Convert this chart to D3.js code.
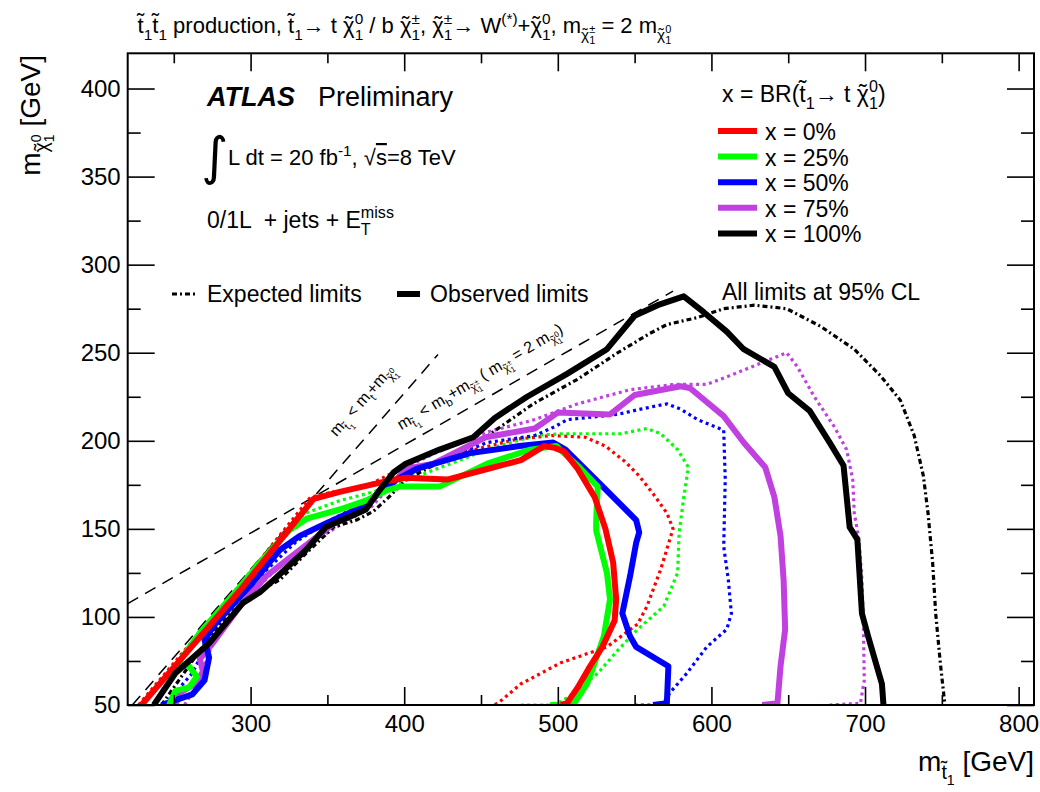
<!DOCTYPE html>
<html>
<head>
<meta charset="utf-8">
<script src="https://d3js.org/d3.v7.min.js"></script>
<style>
  body { margin: 0; background: #fff; }
  svg text { font-family: "Liberation Sans", Arial, sans-serif; fill: #000; white-space: pre; }
</style>
</head>
<body>
<svg id="chart" width="1040" height="792"></svg>
<script>
// ---- data (GeV) ----
var xMajor = [300, 400, 500, 600, 700, 800];
var xMinor = [250, 350, 450, 550, 650, 750];
var yMajor = [50, 100, 150, 200, 250, 300, 350, 400];
var yMinor = [75, 125, 175, 225, 275, 325, 375];

var brLabels = ["x = 0%", "x = 25%", "x = 50%", "x = 75%", "x = 100%"];
var brColors = ["#ff0000", "#00ff00", "#0000ff", "#c040e0", "#000000"];

// observed limits (solid)
var obs0 = [[229,50],[293,115],[341,167],[358,171],[388,177],[401,179],[428,178],[454,184],[476,189],[491,197],[498,196],[504,194],[513,184],[524,168],[531,150],[536,131],[538,110],[537,98],[529,83],[521,72],[513,60],[506,51],[502,50]];
var obs25 = [[247,50],[251,58],[260,60],[265,66],[260,72],[253,74],[267,91],[293,117],[306,131],[325,149],[337,156],[358,161],[375,166],[389,172],[397,174],[423,174],[454,187],[482,195],[499,197],[514,185],[526,174],[525,155],[525,149],[532,125],[534,110],[530,89],[524,74],[519,62],[510,50],[495,50]];
var obs50 = [[242,50],[262,56],[270,64],[273,77],[270,87],[277,96],[300,118],[319,138],[332,146],[349,153],[369,161],[384,170],[395,178],[408,184],[443,193],[475,197],[497,199],[505,195],[527,176],[551,155],[553,148],[551,142],[547,123],[542,102],[547,89],[551,83],[572,72],[571,51],[562,50]];
var obs75 = [[251,50],[254,57],[264,62],[269,69],[267,76],[277,87],[293,106],[310,123],[326,134],[341,144],[354,153],[373,161],[380,168],[391,174],[401,184],[419,187],[453,202],[485,207],[500,216],[534,215],[550,226],[580,231],[586,230],[608,214],[621,199],[635,185],[641,168],[645,146],[647,121],[648,93],[645,72],[643,51],[633,50]];
var obs100 = [[237,50],[251,68],[273,85],[295,108],[306,114],[315,121],[336,138],[349,151],[365,157],[375,161],[384,172],[393,182],[401,187],[423,195],[445,202],[459,213],[480,225],[506,238],[532,252],[550,271],[565,277],[582,282],[595,273],[610,262],[621,252],[641,242],[650,227],[664,217],[677,199],[686,186],[690,151],[695,144],[698,102],[702,89],[711,62],[712,50]];

// expected limits (dotted)
var exp0 = [[227,50],[291,116],[339,168],[354,171],[375,174],[395,183],[410,185],[441,194],[474,201],[496,203],[518,202],[531,197],[544,188],[553,180],[562,170],[571,159],[575,150],[567,127],[558,106],[552,96],[532,83],[502,74],[476,62],[461,51],[458,50]];
var exp25 = [[229,50],[270,92],[300,123],[325,151],[336,159],[358,166],[380,171],[397,176],[409,180],[430,187],[454,195],[485,203],[502,204],[528,204],[541,204],[558,207],[567,204],[578,195],[585,185],[582,168],[579,148],[578,125],[569,106],[552,93],[539,81],[526,68],[508,55],[498,50],[476,50]];
var exp50 = [[244,50],[262,68],[276,92],[300,118],[330,143],[350,154],[370,163],[385,172],[398,180],[430,191],[454,199],[485,203],[498,208],[506,212],[539,215],[554,218],[571,221],[580,218],[591,212],[608,206],[609,178],[608,140],[611,121],[613,102],[610,93],[597,83],[584,68],[573,57],[568,50],[551,50]];
var exp75 = [[257,50],[267,64],[272,78],[277,87],[293,107],[313,124],[332,138],[358,152],[378,162],[392,175],[401,185],[420,193],[454,205],[485,212],[513,221],[547,229],[576,232],[597,232],[612,237],[632,244],[649,250],[656,242],[667,225],[680,208],[688,195],[692,178],[693,159],[696,144],[698,121],[699,93],[699.5,64],[697,51],[677,50]];
var exp100 = [[242,50],[275,91],[299,112],[319,121],[336,136],[354,151],[369,155],[380,160],[390,168],[401,178],[419,186],[453,202],[484,221],[513,235],[539,250],[560,261],[571,266],[591,270],[608,275],[628,277],[649,275],[671,265],[693,252],[710,237],[723,223],[732,203],[738,180],[741,159],[744,131],[746,102],[749,74],[752,50]];

// kinematic limit lines
var kinTop = [[223,50],[422,249]];
var kinBot = [[220,107.6],[575,285]];

var observed = [obs0, obs25, obs50, obs75, obs100];
var expected = [exp0, exp25, exp50, exp75, exp100];

// ---- setup ----
var svg = d3.select("#chart");
var x = d3.scaleLinear().domain([220, 810]).range([127.7, 1034]);
var y = d3.scaleLinear().domain([50, 420]).range([705, 53.3]);

svg.append("defs").append("clipPath").attr("id", "plotclip")
  .append("rect")
    .attr("x", x(220)).attr("y", y(420))
    .attr("width", x(810) - x(220)).attr("height", y(50) - y(420));

var line = d3.line()
  .x(function(d){ return x(d[0]); })
  .y(function(d){ return y(d[1]); });

var plot = svg.append("g").attr("clip-path", "url(#plotclip)");

// dashed kinematic lines
[kinTop, kinBot].forEach(function(l){
  plot.append("path")
    .attr("d", line(l))
    .attr("fill", "none")
    .attr("stroke", "#000")
    .attr("stroke-width", 1.5)
    .attr("stroke-dasharray", "12,8");
});

// expected (dotted)
expected.forEach(function(c, i){
  plot.append("path")
    .attr("d", line(c))
    .attr("fill", "none")
    .attr("stroke", brColors[i])
    .attr("stroke-width", 3.2)
    .attr("stroke-dasharray", i == 4 ? "5,3,2,3" : "3,3.5");
});

// observed (solid); draw order magenta, blue, green, red, black
[3, 2, 1, 0, 4].forEach(function(i){
  plot.append("path")
    .attr("d", line(observed[i]))
    .attr("fill", "none")
    .attr("stroke", brColors[i])
    .attr("stroke-width", 6)
    .attr("stroke-linejoin", "round");
});

// ---- frame and ticks ----
function ticks(axis, values, pos){
  var g = svg.append("g").attr("transform", pos).call(axis.tickValues(values));
  g.select(".domain").remove();
  g.selectAll(".tick line").attr("stroke", "#000").attr("stroke-width", 1.6);
  return g;
}

var gx = ticks(d3.axisBottom(x).tickSizeInner(-18).tickSizeOuter(0).tickPadding(10).tickFormat(d3.format("d")), xMajor, "translate(0," + y(50) + ")");
gx.selectAll("text").style("font-size", "24px").attr("dy", "0.71em");
ticks(d3.axisBottom(x).tickSizeInner(-10).tickSizeOuter(0).tickFormat(""), xMinor, "translate(0," + y(50) + ")");
ticks(d3.axisTop(x).tickSizeInner(-18).tickSizeOuter(0).tickFormat(""), xMajor, "translate(0," + y(420) + ")");
ticks(d3.axisTop(x).tickSizeInner(-10).tickSizeOuter(0).tickFormat(""), xMinor, "translate(0," + y(420) + ")");

var gy = ticks(d3.axisLeft(y).tickSizeInner(-27).tickSizeOuter(0).tickPadding(7).tickFormat(d3.format("d")), yMajor, "translate(" + x(220) + ",0)");
gy.selectAll("text").style("font-size", "24px");
ticks(d3.axisLeft(y).tickSizeInner(-13).tickSizeOuter(0).tickFormat(""), yMinor, "translate(" + x(220) + ",0)");
ticks(d3.axisRight(y).tickSizeInner(-27).tickSizeOuter(0).tickFormat(""), yMajor, "translate(" + x(810) + ",0)");
ticks(d3.axisRight(y).tickSizeInner(-13).tickSizeOuter(0).tickFormat(""), yMinor, "translate(" + x(810) + ",0)");

svg.append("rect")
  .attr("x", x(220)).attr("y", y(420))
  .attr("width", x(810) - x(220)).attr("height", y(50) - y(420))
  .attr("fill", "none").attr("stroke", "#000").attr("stroke-width", 2);

// ---- rich text helper (sub/superscripts, tilde accents) ----
// level: [baseline offset in em of base size, font scale]
var LEVELS = { n: [0, 1], ov: [0, 1], "_": [0.3, 0.7], "^": [-0.42, 0.7], "_^": [0.02, 0.5], "__": [0.5, 0.5] };

function rich(g, px, py, size, parts, opts){
  opts = opts || {};
  var t = g.append("text").attr("x", px).attr("y", py).style("font-size", size + "px");
  if(opts.anchor) t.attr("text-anchor", opts.anchor);
  if(opts.transform) t.attr("transform", opts.transform);
  var cur = 0, lastLen = 0, pending = 0;

  function span(s, m, back){
    var lv = LEVELS[m];
    var ts = t.append("tspan").text(s).style("font-size", (size * lv[1]) + "px");
    if(m == "ov") ts.style("text-decoration", "overline");
    ts.attr("dy", lv[0] * size - cur);
    cur = lv[0] * size;
    ts.attr("dx", back ? -lastLen : pending);
    var len = ts.node().getComputedTextLength();
    pending = back ? Math.max(0, lastLen - len) : 0;
    lastLen = len;
  }

  function accent(m, base){
    var lv = LEVELS[m], fs = size * lv[1];
    var raise = base == "t" ? -0.2 : -0.03;
    var ts = t.append("tspan").text("\u02DC").style("font-size", fs + "px");
    var target = lv[0] * size + raise * fs;
    ts.attr("dy", target - cur);
    cur = target;
    var la = ts.node().getComputedTextLength();
    ts.attr("dx", -(lastLen + la) / 2);
    pending = (lastLen - la) / 2;
  }

  parts.forEach(function(p){
    var s = p, m = "n", back = false;
    if(Array.isArray(p)){ s = p[0]; m = p[1]; }
    if(m.slice(-1) == "!"){ back = true; m = m.slice(0, -1); }
    s.split(/(.\u0303)/).forEach(function(seg){
      if(!seg) return;
      if(seg.length == 2 && seg[1] == "\u0303"){
        span(seg[0], m, back);
        accent(m, seg[0]);
      } else {
        span(seg, m, back);
      }
      back = false;
    });
  });
  return t;
}

var T = "t\u0303", C = "\u03C7\u0303";

// title
rich(svg, 137, 33, 22, [T, ["1","_"], T, ["1","_"], " production, ", T, ["1","_"], "\u2192 t ", C, ["0","^"], ["1","_!"],
  " / b ", C, ["\u00B1","^"], ["1","_!"], ", ", C, ["\u00B1","^"], ["1","_!"], "\u2192 W", ["(*)","^"], "+", C, ["0","^"], ["1","_!"],
  ", m", [C,"_"], ["\u00B1","_^"], ["1","__!"], " = 2 m", [C,"_"], ["0","_^"], ["1","__!"]]);

// axis titles
rich(svg, x(810), 771, 28, ["m", [T,"_"], ["1","__"], " [GeV]"], { anchor: "end" });
rich(svg, 0, 0, 28, ["m", [C,"_"], ["0","_^"], ["1","__!"], " [GeV]"], { anchor: "end", transform: "translate(40,55) rotate(-90)" });

// ATLAS block
svg.append("text").attr("x", 207).attr("y", 106).style("font-size", "27px")
  .style("font-weight", "bold").style("font-style", "italic").text("ATLAS");
svg.append("text").attr("x", 318).attr("y", 106).style("font-size", "27px").text("Preliminary");
svg.append("text").attr("x", 201).attr("y", 174).style("font-size", "52px")
  .style("font-family", "DejaVu Sans").text("\u222B");
rich(svg, 228, 165, 22, ["L dt = 20 fb", ["-1","^"], ", \u221A", ["s","ov"], "=8 TeV"]);
rich(svg, 207, 228, 23, ["0/1L  + jets + E", ["miss","^"], ["T","_!"]]);

// line-style legend
svg.append("line").attr("x1", 172).attr("x2", 196).attr("y1", 294).attr("y2", 294)
  .attr("stroke", "#000").attr("stroke-width", 3.2).attr("stroke-dasharray", "5,3,2,3");
svg.append("text").attr("x", 207).attr("y", 302).style("font-size", "23px").text("Expected limits");
svg.append("line").attr("x1", 397).attr("x2", 420).attr("y1", 294).attr("y2", 294)
  .attr("stroke", "#000").attr("stroke-width", 6);
svg.append("text").attr("x", 430).attr("y", 302).style("font-size", "23px").text("Observed limits");
svg.append("text").attr("x", 722).attr("y", 300).style("font-size", "23px").text("All limits at 95% CL");

// BR legend
rich(svg, 722, 102, 23, ["x = BR(", T, ["1","_"], "\u2192 t ", C, ["0","^"], ["1","_!"], ")"]);
var leg = svg.append("g");
brLabels.forEach(function(lab, i){
  var yy = 131 + i * 25.6;
  leg.append("line").attr("x1", 718).attr("x2", 757).attr("y1", yy).attr("y2", yy)
    .attr("stroke", brColors[i]).attr("stroke-width", 6);
  leg.append("text").attr("x", 765).attr("y", yy + 9).style("font-size", "23px").text(lab);
});

// labels on the kinematic lines
var a1 = -Math.atan((y(50) - y(51)) / (x(221) - x(220))) * 180 / Math.PI;
rich(svg, 0, 0, 16, ["m", [T,"_"], ["1","__"], " < m", ["t","_"], "+m", [C,"_"], ["0","_^"], ["1","__!"]],
  { transform: "translate(" + x(356) + "," + y(202) + ") rotate(" + a1 + ")" });
rich(svg, 0, 0, 16, ["m", [T,"_"], ["1","__"], " < m", ["b","_"], "+m", [C,"_"], ["\u00B1","_^"], ["1","__!"],
  " ( m", [C,"_"], ["\u00B1","_^"], ["1","__!"], " = 2 m", [C,"_"], ["0","_^"], ["1","__!"], ")"],
  { transform: "translate(" + x(398) + "," + y(206) + ") rotate(-31)" });
</script>
</body>
</html>
